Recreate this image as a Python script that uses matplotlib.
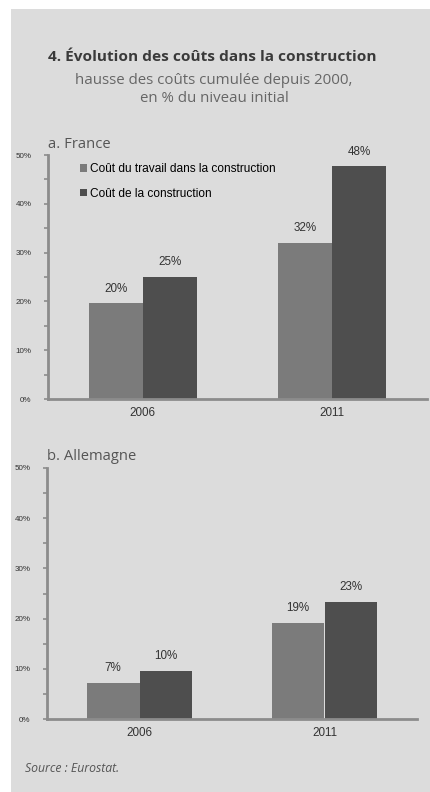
import numpy as np
import matplotlib.pyplot as plt
from matplotlib.patches import Rectangle

# données (hausse cumulée depuis 2000, en %)
annees = ["2006", "2011"]
france_travail = [19.6, 32.0]
france_constr = [25.0, 47.7]
allemagne_travail = [7.2, 19.1]
allemagne_constr = [9.6, 23.3]
series_noms = ["Coût du travail dans la construction", "Coût de la construction"]

fond = "#dcdcdc"
gris_clair = "#7b7b7b"
gris_fonce = "#4e4e4e"
axe_col = "#8c8c8c"
texte = "#3a3a3a"

fig = plt.figure(figsize=(4.3, 7.92), dpi=100)
fig.patch.set_facecolor("white")
fig.add_artist(Rectangle((11/430, 0), 1, 1 - 9/792, transform=fig.transFigure,
                         facecolor=fond, edgecolor="none", zorder=0))

fig.text(212/430, 1 - 57/792, "4. Évolution des coûts dans la construction",
         ha="center", va="center", fontsize=11.1, fontweight="bold",
         family="Open Sans", color=texte)
fig.text(214/430, 1 - 81/792, "hausse des coûts cumulée depuis 2000,",
         ha="center", va="center", fontsize=10.8, family="Open Sans", color="#666666")
fig.text(214/430, 1 - 99/792, "en % du niveau initial",
         ha="center", va="center", fontsize=10.8, family="Open Sans", color="#666666")


def panneau(rect, v1, v2, titre, legende=False):
    ax = fig.add_axes(rect)
    ax.set_facecolor("none")
    x = np.arange(len(annees))
    w = 0.285
    b1 = ax.bar(x - w/2, v1, w, color=gris_clair, label=series_noms[0], zorder=2)
    b2 = ax.bar(x + w/2, v2, w, color=gris_fonce, label=series_noms[1], zorder=2)
    for bars in (b1, b2):
        for b in bars:
            h = b.get_height()
            ax.text(b.get_x() + b.get_width()/2, h + 3.0, f"{h:.0f}%",
                    ha="center", va="center", fontsize=8.4, family="Liberation Sans",
                    color="#333333")
    ax.set_xlim(-0.5, 1.5)
    ax.set_ylim(0, 50)
    ax.set_xticks(x)
    ax.set_xticklabels(annees, fontsize=8.4, family="Liberation Sans", color="#333333")
    ax.set_yticks(np.arange(0, 51, 10))
    ax.set_yticklabels([f"{v}%" for v in range(0, 51, 10)], fontsize=5.8,
                       family="Liberation Sans", color="#333333")
    ax.set_yticks(np.arange(5, 50, 10), minor=True)
    ax.tick_params(axis="y", which="both", length=3, width=1.2, color=axe_col, pad=9)
    ax.tick_params(axis="x", length=0, pad=6)
    for s in ("top", "right"):
        ax.spines[s].set_visible(False)
    for s in ("left", "bottom"):
        ax.spines[s].set_color(axe_col)
        ax.spines[s].set_linewidth(2)
    ax.text(0.0, 1.045, titre, transform=ax.transAxes, ha="left", va="center",
            fontsize=10.6, family="Open Sans", color="#555555")
    if legende:
        ax.legend(loc="upper left", bbox_to_anchor=(0.055, 1.01), frameon=False,
                  handlelength=0.6, handleheight=0.6, handletextpad=0.3,
                  labelspacing=1.05, prop={"family": "Liberation Sans", "size": 8.6})
    return ax


panneau([48/430, 1 - 399/792, 379/430, 244/792], france_travail, france_constr,
        "a. France", legende=True)
panneau([47/430, 1 - 719/792, 370/430, 251/792], allemagne_travail, allemagne_constr,
        "b. Allemagne")

fig.text(25/430, 1 - 768/792, "Source : Eurostat.", ha="left", va="center",
         fontsize=8.8, style="italic", family="Open Sans", color="#555555")

fig.savefig("out.png", dpi=100)
